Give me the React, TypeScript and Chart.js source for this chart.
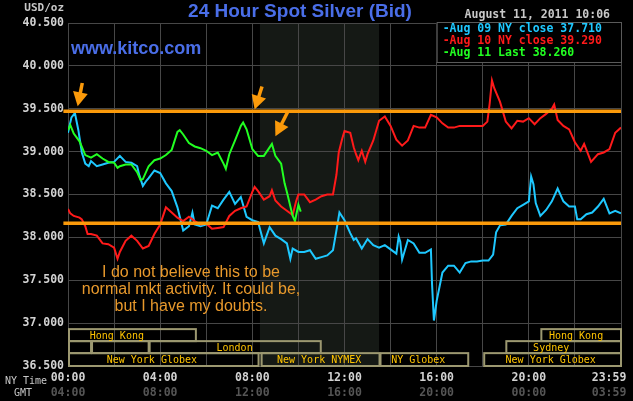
import React, { useEffect, useRef } from "react";
import { Chart, registerables } from "chart.js";

Chart.register(...registerables);

// ---- data (hours since NY midnight, USD/oz) ----
const aug09Hours = [0, 0.15, 0.3, 0.45, 0.6, 0.75, 0.9, 1.0, 1.25, 1.5, 1.75, 2.0, 2.25, 2.5, 2.75, 3.0, 3.1, 3.25, 3.4, 3.5, 3.75, 4.0, 4.25, 4.5, 4.75, 5.0, 5.25, 5.4, 5.5, 5.75, 6.0, 6.25, 6.5, 6.75, 7.0, 7.25, 7.5, 7.75, 8.0, 8.25, 8.5, 8.75, 9.0, 9.25, 9.5, 9.65, 9.75, 10.0, 10.25, 10.5, 10.75, 11.0, 11.25, 11.5, 11.65, 11.78, 12.0, 12.25, 12.4, 12.5, 12.75, 13.0, 13.25, 13.5, 13.75, 14.0, 14.25, 14.35, 14.42, 14.5, 14.75, 15.0, 15.25, 15.5, 15.75, 15.8, 15.88, 16.0, 16.25, 16.5, 16.75, 17.0, 17.25, 17.5, 17.75, 18.0, 18.25, 18.45, 18.58, 18.75, 19.0, 19.25, 19.5, 19.75, 20.0, 20.1, 20.2, 20.3, 20.5, 20.75, 21.0, 21.25, 21.5, 21.75, 22.0, 22.1, 22.25, 22.5, 22.75, 23.0, 23.25, 23.5, 23.75, 24.0];
const aug09Prices = [39.22, 39.4, 39.45, 39.25, 38.99, 38.86, 38.83, 38.89, 38.83, 38.85, 38.87, 38.88, 38.95, 38.88, 38.87, 38.83, 38.72, 38.6, 38.66, 38.69, 38.78, 38.75, 38.63, 38.54, 38.35, 38.08, 38.13, 38.29, 38.15, 38.13, 38.15, 38.37, 38.34, 38.44, 38.53, 38.39, 38.47, 38.24, 38.2, 38.18, 37.93, 38.12, 38.02, 37.98, 37.93, 37.75, 37.87, 37.83, 37.83, 37.85, 37.75, 37.77, 37.79, 37.85, 38.08, 38.29, 38.2, 38.05, 37.97, 37.99, 37.87, 37.98, 37.91, 37.88, 37.91, 37.86, 37.81, 38.01, 37.95, 37.74, 37.97, 37.93, 37.82, 37.82, 37.86, 37.45, 37.03, 37.26, 37.59, 37.67, 37.67, 37.59, 37.7, 37.72, 37.72, 37.73, 37.73, 37.8, 38.06, 38.14, 38.15, 38.25, 38.34, 38.38, 38.42, 38.71, 38.62, 38.4, 38.25, 38.32, 38.42, 38.57, 38.42, 38.36, 38.36, 38.21, 38.21, 38.27, 38.29, 38.36, 38.45, 38.28, 38.31, 38.28];

const aug10Hours = [0, 0.1, 0.25, 0.5, 0.6, 0.75, 0.85, 1.0, 1.25, 1.5, 1.75, 2.0, 2.15, 2.25, 2.5, 2.75, 3.0, 3.25, 3.5, 3.75, 4.0, 4.25, 4.5, 4.75, 5.0, 5.25, 5.5, 5.75, 6.0, 6.25, 6.5, 6.75, 7.0, 7.25, 7.5, 7.75, 8.0, 8.1, 8.25, 8.5, 8.75, 8.85, 9.0, 9.25, 9.5, 9.75, 9.9, 10.0, 10.25, 10.5, 10.75, 11.0, 11.25, 11.5, 11.65, 11.75, 11.9, 12.0, 12.25, 12.4, 12.5, 12.6, 12.75, 12.9, 13.0, 13.25, 13.5, 13.75, 14.0, 14.25, 14.5, 14.75, 15.0, 15.25, 15.5, 15.75, 16.0, 16.25, 16.5, 16.75, 17.0, 17.25, 17.5, 17.75, 18.0, 18.2, 18.3, 18.4, 18.5, 18.75, 19.0, 19.25, 19.5, 19.75, 20.0, 20.25, 20.5, 20.75, 21.0, 21.1, 21.25, 21.5, 21.75, 22.0, 22.25, 22.4, 22.5, 22.7, 23.0, 23.25, 23.5, 23.75, 24.0];
const aug10Prices = [38.33, 38.28, 38.25, 38.23, 38.21, 38.13, 38.04, 38.04, 38.02, 37.93, 37.92, 37.88, 37.75, 37.83, 37.96, 38.02, 37.96, 37.87, 37.9, 38.04, 38.15, 38.35, 38.29, 38.23, 38.19, 38.24, 38.19, 38.15, 38.16, 38.1, 38.11, 38.12, 38.25, 38.31, 38.34, 38.36, 38.53, 38.59, 38.54, 38.44, 38.48, 38.55, 38.43, 38.36, 38.31, 38.26, 38.42, 38.5, 38.5, 38.41, 38.44, 38.48, 38.5, 38.5, 38.73, 38.99, 39.15, 39.24, 39.22, 39.05, 38.97, 38.9, 39.01, 38.88, 38.97, 39.13, 39.36, 39.41, 39.3, 39.14, 39.07, 39.13, 39.3, 39.28, 39.28, 39.43, 39.4, 39.33, 39.28, 39.28, 39.3, 39.3, 39.3, 39.3, 39.3, 39.35, 39.56, 39.83, 39.74, 39.58, 39.35, 39.27, 39.36, 39.35, 39.39, 39.32, 39.39, 39.44, 39.5, 39.55, 39.37, 39.3, 39.26, 39.11, 39.01, 39.09, 39.02, 38.88, 38.97, 38.99, 39.03, 39.22, 39.28];

const aug11Hours = [0, 0.1, 0.25, 0.5, 0.75, 1.0, 1.25, 1.5, 1.75, 2.0, 2.15, 2.25, 2.5, 2.75, 3.0, 3.15, 3.25, 3.5, 3.75, 4.0, 4.25, 4.5, 4.75, 4.85, 5.0, 5.25, 5.5, 5.75, 6.0, 6.25, 6.5, 6.75, 6.85, 7.0, 7.25, 7.5, 7.6, 7.75, 8.0, 8.25, 8.5, 8.75, 8.85, 9.0, 9.25, 9.4, 9.5, 9.75, 9.85, 10.0, 10.1];
const aug11Prices = [39.25, 39.31, 39.21, 39.12, 38.96, 38.93, 38.97, 38.92, 38.88, 38.87, 38.81, 38.83, 38.85, 38.85, 38.76, 38.67, 38.68, 38.83, 38.9, 38.92, 38.96, 39.02, 39.23, 39.25, 39.2, 39.1, 39.06, 39.04, 39.01, 38.96, 38.99, 38.86, 38.8, 38.97, 39.13, 39.3, 39.34, 39.26, 39.03, 38.95, 38.95, 39.05, 39.09, 38.95, 38.86, 38.63, 38.53, 38.25, 38.19, 38.38, 38.3];

const seriesNames = ["Aug 09 NY close 37.710", "Aug 10 NY close 39.290", "Aug 11 Last 38.260"];
const seriesColors = ["#1ec8ff", "#ff1a1a", "#22ff22"];

// axis ticks
const gridHours = [0, 2, 4, 6, 8, 10, 12, 14, 16, 18, 20, 22, 24];
const labelHours = [0, 4, 8, 12, 16, 20, 23.48];
const nyTimeLabels = ["00:00", "04:00", "08:00", "12:00", "16:00", "20:00", "23:59"];
const gmtLabels = ["04:00", "08:00", "12:00", "16:00", "20:00", "00:00", "03:59"];
const priceMin = 36.5;
const priceMax = 40.5;
const priceStep = 0.5;

// annotation levels
const resistanceLevel = 39.47;
const supportLevel = 38.165;
const arrowTailHours = [0.62, 8.42, 9.55];
const arrowTailPrices = [39.8, 39.76, 39.47];
const arrowTipHours = [0.42, 8.1, 9.0];
const arrowTipPrices = [39.53, 39.49, 39.18];
const noteLines = ["I do not believe this to be", "normal mkt activity. It could be,", "but I have my doubts."];

// NYMEX pit session shading
const nymexStart = 8.33;
const nymexEnd = 13.5;

// market sessions
const sessionNames = ["Hong Kong", "", "", "London", "New York Globex", "New York NYMEX", "NY Globex", "New York Globex", "Sydney", "Hong Kong"];
const sessionStarts = [0, 0, 1.0, 3.5, 0, 8.36, 13.52, 18.02, 18.98, 20.5];
const sessionEnds = [5.55, 1.0, 3.5, 10.97, 8.27, 13.52, 17.37, 24, 24, 24];
const sessionRows = [0, 1, 1, 1, 2, 2, 2, 2, 1, 0];
const sessionLabelHours = [2.12, 0, 0, 7.23, 3.64, 10.9, 15.2, 20.95, 20.97, 22.05];
const sessionRowTops = [36.93, 36.79, 36.65];
const sessionRowBottoms = [36.79, 36.65, 36.5];

const GRID = "#474747";
const ORANGE = "#fb9a0a";
const MONO = "'DejaVu Sans Mono', monospace";
const SANS = "'Liberation Sans', Arial, sans-serif";

const xTickValues = [...gridHours.slice(0, -1), labelHours[labelHours.length - 1], 24];

function toPoints(hours: number[], prices: number[]) {
  return hours.map((h, i) => ({ x: h, y: prices[i] }));
}

const backgroundPlugin = {
  id: "kitcoBackground",
  beforeDraw(chart: any) {
    const { ctx, chartArea, scales } = chart;
    ctx.save();
    ctx.fillStyle = "#000000";
    ctx.fillRect(0, 0, chart.width, chart.height);
    const x0 = scales.x.getPixelForValue(nymexStart);
    const x1 = scales.x.getPixelForValue(nymexEnd);
    ctx.fillStyle = "#151915";
    ctx.fillRect(x0, chartArea.top, x1 - x0, chartArea.bottom - chartArea.top);
    ctx.restore();
  },
};

const overlayPlugin = {
  id: "kitcoOverlay",
  afterDatasetsDraw(chart: any) {
    const { ctx, chartArea, scales } = chart;
    const xs = scales.x;
    const ys = scales.y;
    ctx.save();

    // session boxes
    ctx.lineWidth = 2;
    ctx.strokeStyle = "#9c9870";
    ctx.font = `10px ${MONO}`;
    ctx.textAlign = "center";
    ctx.textBaseline = "middle";
    sessionNames.forEach((name, i) => {
      const r = sessionRows[i];
      const x0 = xs.getPixelForValue(sessionStarts[i]);
      const x1 = xs.getPixelForValue(sessionEnds[i]);
      const y0 = ys.getPixelForValue(sessionRowTops[r]);
      const y1 = ys.getPixelForValue(sessionRowBottoms[r]);
      ctx.strokeRect(x0 + 1, y0, x1 - x0 - 1, y1 - y0);
    });
    ctx.fillStyle = "#ffc400";
    sessionNames.forEach((name, i) => {
      if (!name) return;
      const r = sessionRows[i];
      const y0 = ys.getPixelForValue(sessionRowTops[r]);
      const y1 = ys.getPixelForValue(sessionRowBottoms[r]);
      ctx.fillText(name, xs.getPixelForValue(sessionLabelHours[i]), (y0 + y1) / 2 + 1);
    });

    // arrows
    ctx.fillStyle = ORANGE;
    ctx.strokeStyle = ORANGE;
    arrowTailHours.forEach((_, i) => {
      const tx = xs.getPixelForValue(arrowTailHours[i]);
      const ty = ys.getPixelForValue(arrowTailPrices[i]);
      const px = xs.getPixelForValue(arrowTipHours[i]);
      const py = ys.getPixelForValue(arrowTipPrices[i]);
      const ang = Math.atan2(py - ty, px - tx);
      const headLen = 14;
      const headHalf = 7.5;
      const bx = px - Math.cos(ang) * headLen;
      const by = py - Math.sin(ang) * headLen;
      ctx.lineWidth = 3.5;
      ctx.beginPath();
      ctx.moveTo(tx, ty);
      ctx.lineTo(bx + Math.cos(ang) * 2, by + Math.sin(ang) * 2);
      ctx.stroke();
      ctx.beginPath();
      ctx.moveTo(px, py);
      ctx.lineTo(bx + Math.sin(ang) * headHalf, by - Math.cos(ang) * headHalf);
      ctx.lineTo(bx - Math.sin(ang) * headHalf, by + Math.cos(ang) * headHalf);
      ctx.closePath();
      ctx.fill();
    });

    // note
    ctx.fillStyle = "#e8992c";
    ctx.font = `16px ${SANS}`;
    ctx.textAlign = "center";
    ctx.textBaseline = "middle";
    noteLines.forEach((line, i) => ctx.fillText(line, 191, 273 + i * 17));

    // legend box
    const lx0 = xs.getPixelForValue(16);
    const lx1 = chartArea.right;
    const ly0 = chartArea.top - 1;
    const ly1 = 62;
    ctx.fillStyle = "#000000";
    ctx.fillRect(lx0, ly0, lx1 - lx0, ly1 - ly0);
    ctx.lineWidth = 1;
    ctx.strokeStyle = "#5a5a5a";
    ctx.strokeRect(lx0 + 0.5, ly0 + 0.5, lx1 - lx0, ly1 - ly0);
    ctx.font = `bold 11.5px ${MONO}`;
    ctx.textAlign = "left";
    seriesNames.forEach((name, i) => {
      ctx.fillStyle = seriesColors[i];
      ctx.fillText("-" + name, lx0 + 6, 29 + i * 12);
    });

    ctx.restore();
  },
  afterDraw(chart: any) {
    const { ctx } = chart;
    ctx.save();
    ctx.textBaseline = "middle";
    // title
    ctx.fillStyle = "#4a6ee8";
    ctx.textAlign = "center";
    ctx.font = `bold 19px ${SANS}`;
    ctx.fillText("24 Hour Spot Silver (Bid)", 300, 12);
    ctx.textAlign = "left";
    ctx.font = `bold 18px ${SANS}`;
    ctx.fillText("www.kitco.com", 71, 49);
    // date
    ctx.fillStyle = "#c8c8c8";
    ctx.textAlign = "right";
    ctx.font = `bold 11.5px ${MONO}`;
    ctx.fillText("August 11, 2011 10:06", 610, 15);
    ctx.font = `bold 11px ${MONO}`;
    ctx.fillText("USD/oz", 64, 8);
    ctx.textAlign = "left";
    ctx.font = `10px ${MONO}`;
    ctx.fillText("NY Time", 5, 381);
    ctx.fillText("GMT", 14, 393);
    ctx.restore();
  },
};

export default function App() {
  const ref = useRef<HTMLCanvasElement>(null);

  useEffect(() => {
    const canvas = ref.current;
    if (!canvas) return;
    const lineStyle = { pointRadius: 0, borderWidth: 2, tension: 0, fill: false, xAxisID: "x", yAxisID: "y" };
    const chart = new Chart(canvas, {
      type: "line",
      data: {
        datasets: [
          { ...lineStyle, label: "resistance", data: [{ x: -0.2, y: resistanceLevel }, { x: 24, y: resistanceLevel }], borderColor: ORANGE, borderWidth: 3.5, clip: false } as any,
          { ...lineStyle, label: "support", data: [{ x: -0.2, y: supportLevel }, { x: 24, y: supportLevel }], borderColor: ORANGE, borderWidth: 3.5, clip: false } as any,
          { ...lineStyle, label: seriesNames[2], data: toPoints(aug11Hours, aug11Prices), borderColor: seriesColors[2] },
          { ...lineStyle, label: seriesNames[1], data: toPoints(aug10Hours, aug10Prices), borderColor: seriesColors[1] },
          { ...lineStyle, label: seriesNames[0], data: toPoints(aug09Hours, aug09Prices), borderColor: seriesColors[0] },
        ],
      },
      options: {
        animation: false,
        responsive: false,
        devicePixelRatio: 1,
        layout: { padding: { top: 23, right: 12, left: 0, bottom: 0 } },
        plugins: { legend: { display: false }, tooltip: { enabled: false }, title: { display: false } },
        scales: {
          x: {
            type: "linear",
            min: 0,
            max: 24,
            position: "bottom",
            weight: 0,
            afterBuildTicks: (s: any) => {
              s.ticks = xTickValues.map((v) => ({ value: v }));
            },
            afterFit: (s: any) => {
              s.height = 20;
            },
            grid: {
              color: (c: any) => (c.tick && c.tick.value === labelHours[labelHours.length - 1] ? "rgba(0,0,0,0)" : GRID),
              drawTicks: false,
              lineWidth: 1,
            },
            border: { color: GRID },
            ticks: {
              autoSkip: false,
              maxRotation: 0,
              padding: 5,
              color: "#d2d2d2",
              font: { family: MONO, size: 11.5, weight: "bold" },
              callback: (v: any) => {
                const i = labelHours.indexOf(Number(v));
                return i >= 0 ? nyTimeLabels[i] : "";
              },
            },
          },
          x2: {
            type: "linear",
            min: 0,
            max: 24,
            position: "bottom",
            weight: 1,
            afterBuildTicks: (s: any) => {
              s.ticks = labelHours.map((v) => ({ value: v }));
            },
            afterFit: (s: any) => {
              s.height = 15;
            },
            grid: { display: false, drawTicks: false },
            border: { display: false },
            ticks: {
              autoSkip: false,
              maxRotation: 0,
              padding: 0,
              color: "#555555",
              font: { family: MONO, size: 11.5, weight: "bold" },
              callback: (v: any) => {
                const i = labelHours.indexOf(Number(v));
                return i >= 0 ? gmtLabels[i] : "";
              },
            },
          },
          y: {
            type: "linear",
            min: priceMin,
            max: priceMax,
            afterFit: (s: any) => {
              s.width = 68;
            },
            grid: { color: GRID, drawTicks: false, lineWidth: 1 },
            border: { color: GRID },
            ticks: {
              stepSize: priceStep,
              padding: 4,
              color: "#d2d2d2",
              font: { family: MONO, size: 11.5, weight: "bold" },
              callback: (v: any) => Number(v).toFixed(3),
            },
          },
        },
      } as any,
      plugins: [backgroundPlugin, overlayPlugin],
    });
    return () => chart.destroy();
  }, []);

  return (
    <div style={{ position: "fixed", left: 0, top: 0, width: 633, height: 401, background: "#000" }}>
      <canvas ref={ref} width={633} height={401} style={{ display: "block", width: 633, height: 401 }} />
    </div>
  );
}
